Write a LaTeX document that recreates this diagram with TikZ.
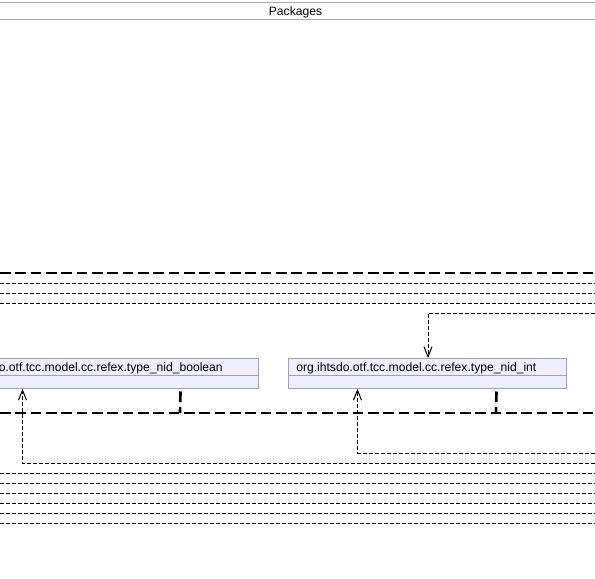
\documentclass[tikz,border=0pt]{standalone}
\usepackage{fontspec}
\setmainfont{Liberation Sans}
\usetikzlibrary{arrows.meta,calc}
\definecolor{boxfill}{RGB}{238,238,254}
\definecolor{boxline}{RGB}{160,160,185}
\definecolor{hdrline}{RGB}{170,170,170}
\tikzset{
  thindash/.style={line width=0.75pt, dash pattern=on 3pt off 1.5pt},
  thickdash/.style={line width=2pt, dash pattern=on 8pt off 3.5pt},
  openarr/.style={-{Straight Barb[length=7.5pt,width=6pt]}},
  pkgbox/.style={draw=boxline, fill=boxfill, line width=0.75pt, inner sep=0pt, minimum height=22.35pt},
  lbl/.style={inner sep=0pt, font=\fontsize{9.1pt}{11pt}\selectfont},
  hdr/.style={draw=hdrline, line width=0.75pt}
}
\begin{document}
\begin{tikzpicture}[x=0.75pt,y=-0.75pt]
\useasboundingbox (0,0) rectangle (595,578);
\clip (0,0) rectangle (595,578);
\fill[white] (0,0) rectangle (595,578);
% header
\draw[hdr] (0,2) -- (595,2);
\draw[hdr] (0,19.5) -- (595,19.5);
\node[lbl, anchor=base] (hdrtxt) at (295.5,15) {Packages};
% packaging lines (top)
\draw[thickdash] (0,273) -- (595,273);
\foreach \yy in {283,293,303} \draw[thindash] (0,\yy) -- (595,\yy);
% boxes
\node[pkgbox, minimum width=229pt] (b1) at (105.65,373.4) {};
\node[pkgbox, minimum width=208.7pt] (b2) at (427.15,373.4) {};
\draw[boxline, line width=0.75pt] (b1.west |- 0,375.5) -- (b1.east |- 0,375.5);
\draw[boxline, line width=0.75pt] (b2.west |- 0,375.5) -- (b2.east |- 0,375.5);
\node[lbl, anchor=base east] (t1) at (223,371) {org.ihtsdo.otf.tcc.model.cc.refex.type\_nid\_boolean};
\node[lbl, anchor=base west] (t2) at (296,371) {org.ihtsdo.otf.tcc.model.cc.refex.type\_nid\_int};
% thick line below boxes
\draw[thickdash] (0,413) -- (595,413);
\coordinate (s1a) at ($(b1.south east)+(-78.3,2.7)$);
\coordinate (s1b) at (180,413);
\coordinate (s2a) at ($(b2.south east)+(-70.3,2.7)$);
\coordinate (s2b) at (496,413);
\draw[thickdash] (s1a) -- (s1b);
\draw[thickdash] (s2a) -- (s2b);
% incoming dependency into b2 from right
\coordinate (e1) at (595,313);
\draw[thindash, openarr] (e1) -| ($(b2.north)+(0.85,0)$);
% dependencies from below
\coordinate (e2) at (595,463);
\draw[thindash, openarr] (e2) -| ($(b1.south west)+(70,0)$);
\coordinate (e3) at (595,453);
\draw[thindash, openarr] (e3) -| ($(b2.south west)+(70,0)$);
% packaging lines (bottom)
\foreach \yy in {473,483,493,503,513,523} \draw[thindash] (0,\yy) -- (595,\yy);
\end{tikzpicture}
\end{document}
